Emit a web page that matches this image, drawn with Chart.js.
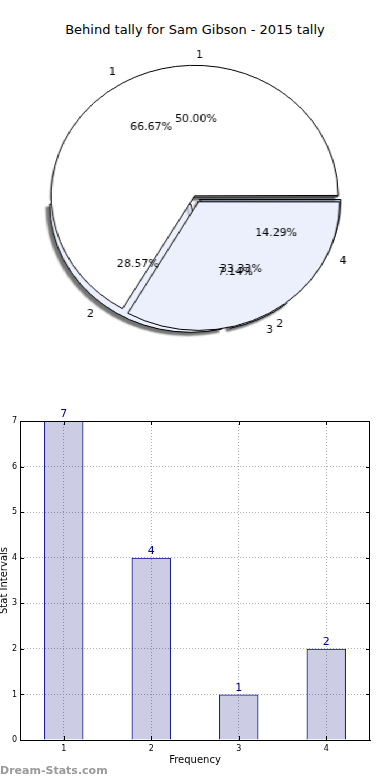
<!DOCTYPE html>
<html>
<head>
<meta charset="utf-8">
<script src="https://cdn.jsdelivr.net/npm/chart.js@4.4.1/dist/chart.umd.min.js"></script>
<style>
  html, body { margin: 0; padding: 0; background: #fff; }
  body { width: 390px; height: 780px; position: relative; overflow: hidden; font-family: "DejaVu Sans", sans-serif; }
  .title { position: absolute; top: 22px; left: 0; width: 390px; text-align: center; font-size: 13px; color: #000; }
  .pie { position: absolute; left: 26px; top: 28px; width: 340px; height: 340px; transform: scaleX(1.1); transform-origin: 50% 50%; }
  .pie canvas { position: absolute; left: 0; top: 0; }
  .bars { position: absolute; left: 0; top: 390px; width: 390px; height: 390px; }
  .mark { position: absolute; left: 0; top: 764px; font-size: 11px; font-weight: bold; color: #9a9a9a; }
</style>
</head>
<body>
<div class="title">Behind tally for Sam Gibson - 2015 tally</div>
<div class="pie">
  <canvas id="pieA" width="340" height="340"></canvas>
  <canvas id="pieB" width="340" height="340"></canvas>
</div>
<div class="bars"><canvas id="barChart" width="390" height="390"></canvas></div>
<div class="mark">Dream-Stats.com</div>

<script>
// first pie (drawn underneath, with shadow)
const pieALabels = ['1', '2', '3', '4'];
const pieAValues = [7, 4, 1, 2];

// second pie (drawn on top)
const pieBLabels = ['1', '2'];
const pieBValues = [2, 1];

// bar chart
const barLabels = ['1', '2', '3', '4'];
const barValues = [7, 4, 1, 2];
const yTicks = [0, 1, 2, 3, 4, 5, 6, 7];

const SX = 1.1;   // pie is stretched sideways
const rev = arr => arr.slice().reverse();   // matplotlib goes counter-clockwise

// chart.js moves an arc by offset/4*(1+fix); turn a wanted shift in px into that offset
const arcFix = circ => 1 - Math.sin(Math.min(Math.PI, circ));

function pieConfig(labels, values, colors, shifts, plugins) {
    const vals = rev(values);
    const total = vals.reduce((a, b) => a + b, 0);
    const sh = rev(shifts);
    return {
        type: 'pie',
        data: {
            labels: rev(labels),
            datasets: [{
                data: vals,
                backgroundColor: rev(colors),
                offset: c => 4 * sh[c.dataIndex] / (1 + arcFix(2 * Math.PI * vals[c.dataIndex] / total)),
                borderColor: '#000',
                borderWidth: 1
            }]
        },
        options: {
            responsive: false,
            animation: false,
            events: [],
            rotation: 90,
            radius: 128,
            layout: { padding: 0 },
            plugins: { legend: { display: false }, tooltip: { enabled: false } }
        },
        plugins: plugins
    };
}

const shadow = {
    id: 'shadow',
    beforeDatasetsDraw(chart) {
        const ctx = chart.ctx;
        ctx.save();
        ctx.shadowColor = 'rgba(0,0,0,0.55)';
        ctx.shadowBlur = 2;
        ctx.shadowOffsetX = -3;
        ctx.shadowOffsetY = 3;
    },
    afterDatasetsDraw(chart) {
        chart.ctx.restore();
    }
};

const pieA = new Chart(document.getElementById('pieA'),
    pieConfig(pieALabels, pieAValues, ['#ffffff', '#ebf0fc', '#dfe7f7', '#b0c4de'], [2, 8, 6, 4], [shadow]));

// all texts of both pies go on the top canvas
const pieTexts = {
    id: 'pieTexts',
    afterDraw(chart) {
        const ctx = chart.ctx;
        const c0 = chart.getDatasetMeta(0).data[0];
        [pieA, chart].forEach(ch => {
            const arcs = ch.getDatasetMeta(0).data;
            const vals = ch.data.datasets[0].data;
            const total = vals.reduce((a, b) => a + b, 0);
            arcs.forEach((arc, i) => {
                const mid = (arc.startAngle + arc.endAngle) / 2;
                const r = arc.outerRadius;
                const off = (arc.options.offset || 0) / 4 * (1 + arcFix(arc.endAngle - arc.startAngle));
                const cos = Math.cos(mid), sin = Math.sin(mid);
                const put = (txt, k, align) => {
                    ctx.save();
                    ctx.translate(c0.x + cos * (off + k * r), c0.y + sin * (off + k * r));
                    ctx.scale(1 / SX, 1);
                    ctx.font = '11px "DejaVu Sans"';
                    ctx.fillStyle = '#000';
                    ctx.textAlign = align;
                    ctx.textBaseline = 'middle';
                    ctx.fillText(txt, 0, 0);
                    ctx.restore();
                };
                put(ch.data.labels[i], 1.1, cos > -1e-6 ? 'left' : 'right');
                put((vals[i] / total * 100).toFixed(2) + '%', 0.6, 'center');
            });
        });
    }
};

const pieB = new Chart(document.getElementById('pieB'),
    pieConfig(pieBLabels, pieBValues, ['#ffffff', '#ebf0fc'], [5, 5], [pieTexts]));

// frame, inward ticks and value labels for the bar chart
const barExtras = {
    id: 'barExtras',
    afterDatasetsDraw(chart) {
        const ctx = chart.ctx;
        const meta = chart.getDatasetMeta(0);
        ctx.save();
        ctx.font = '11px "DejaVu Sans"';
        ctx.fillStyle = '#00008b';
        ctx.textAlign = 'center';
        ctx.textBaseline = 'bottom';
        meta.data.forEach((bar, i) => {
            ctx.fillText(String(chart.data.datasets[0].data[i]), bar.x, bar.y - 1);
        });
        ctx.restore();
    },
    afterDraw(chart) {
        const ctx = chart.ctx;
        const a = chart.chartArea;
        const x = chart.scales.x, y = chart.scales.y;
        ctx.save();
        ctx.strokeStyle = '#000';
        ctx.lineWidth = 1;
        ctx.strokeRect(Math.round(a.left) + 0.5, Math.round(a.top) + 0.5,
            Math.round(a.right - a.left) - 1, Math.round(a.bottom - a.top));
        ctx.beginPath();
        yTicks.forEach(v => {
            const py = Math.round(y.getPixelForValue(v)) + 0.5;
            ctx.moveTo(a.left, py); ctx.lineTo(a.left + 4, py);
            ctx.moveTo(a.right, py); ctx.lineTo(a.right - 4, py);
        });
        barLabels.forEach((l, i) => {
            const px = Math.round(x.getPixelForValue(i)) + 0.5;
            ctx.moveTo(px, a.bottom); ctx.lineTo(px, a.bottom - 4);
            ctx.moveTo(px, a.top); ctx.lineTo(px, a.top + 4);
        });
        ctx.stroke();
        ctx.restore();
    }
};

const barChart = new Chart(document.getElementById('barChart'), {
    type: 'bar',
    data: {
        labels: barLabels,
        datasets: [{
            data: barValues,
            // see-through so the dotted grid shows inside the bars
            backgroundColor: 'rgba(0,0,125,0.2)',
            borderColor: '#00008b',
            borderWidth: 1,
            barPercentage: 0.45,
            categoryPercentage: 1
        }]
    },
    options: {
        responsive: false,
        animation: false,
        events: [],
        layout: { padding: { top: 31, right: 20, left: 0, bottom: 0 } },
        scales: {
            x: {
                afterFit: s => { s.height = 40; },
                grid: { color: '#b0b0b0', drawTicks: false, offset: false },
                border: { color: '#000', dash: [1, 2] },
                ticks: { color: '#000', font: { size: 8, family: 'DejaVu Sans' }, padding: 4 },
                title: { display: true, text: 'Frequency', color: '#000',
                         font: { size: 10, family: 'DejaVu Sans' }, padding: { top: 0, bottom: 14 } }
            },
            y: {
                min: 0,
                max: 7,
                afterFit: s => { s.width = 20; },
                grid: { color: '#b0b0b0', drawTicks: false },
                border: { color: '#000', dash: [1, 2] },
                ticks: { stepSize: 1, color: '#000', font: { size: 8, family: 'DejaVu Sans' }, padding: 3 },
                title: { display: true, text: 'Stat Intervals', color: '#000',
                         font: { size: 10, family: 'DejaVu Sans' }, padding: { top: -2, bottom: 0 } }
            }
        },
        plugins: { legend: { display: false }, tooltip: { enabled: false } }
    },
    plugins: [barExtras]
});
</script>
</body>
</html>
